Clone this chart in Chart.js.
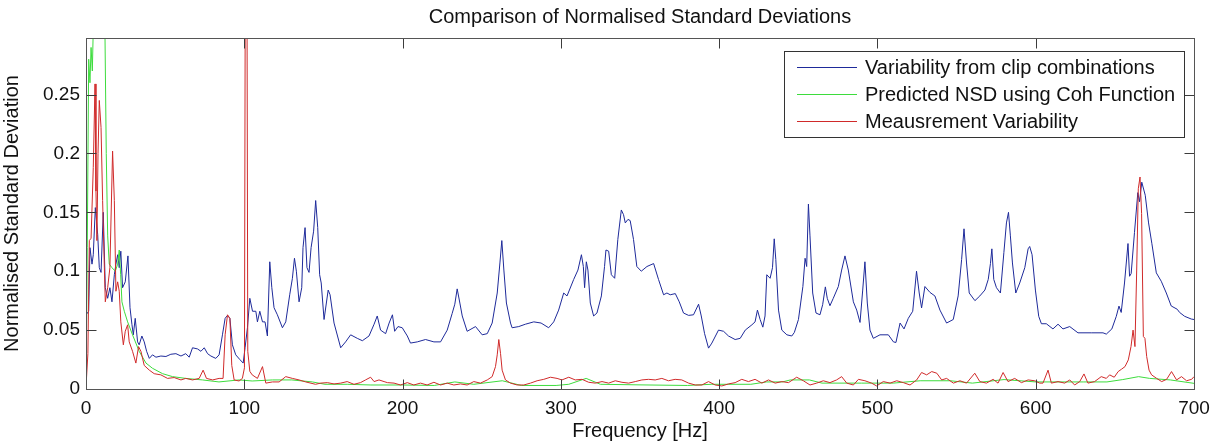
<!DOCTYPE html>
<html>
<head>
<meta charset="utf-8">
<script src="https://cdn.jsdelivr.net/npm/chart.js@4.4.1/dist/chart.umd.min.js"></script>
<style>
    html, body { margin: 0; padding: 0; background: #fff; }
</style>
</head>
<body>
<canvas id="NsdChart" width="1218" height="443"></canvas>
<script>
// values (frequency in Hz, value)
const blueFreq = [0, 1.7, 2.5, 3.8, 4.6, 5.9, 7.4, 8.4, 9.5, 10.9, 12.2, 13.7, 15.1, 16.4, 17.9, 18.9, 20, 21, 22, 23.1, 24.8, 26.5, 27.8, 29, 29.9, 31.1, 32.6, 33.6, 35.3, 36.8, 38.3, 40, 42, 44.2, 47.3, 50.5, 53.6, 56.8, 60, 63, 65.2, 67.3, 70.5, 72.6, 74.7, 76.8, 78.9, 82, 84.1, 86.2, 87.9, 89.4, 90.9, 92.5, 94.6, 97.2, 99.3, 100.5, 102, 103.5, 105.2, 107.3, 108.3, 109.8, 111.5, 113.1, 114.6, 116.1, 117.4, 118.8, 120.9, 124.1, 126.2, 128.7, 130.4, 131.7, 132.9, 134.6, 136.3, 137.1, 138.4, 139.6, 140.9, 142.2, 143.8, 145.1, 146.4, 147.6, 148.6, 150.4, 153, 154.2, 156.7, 160.9, 164, 167.2, 171.4, 174.6, 178.8, 182, 184, 186.1, 189.3, 191.5, 193.6, 195, 197.1, 199.8, 203, 205, 209.3, 214.5, 219.8, 224, 228.2, 231.3, 233, 234.5, 236.2, 237.7, 240.8, 246.1, 250.3, 253.5, 256.6, 259.8, 261.5, 262.7, 264, 265.6, 268.2, 269.2, 273.4, 277.6, 282.9, 287.5, 292.3, 295.5, 298.6, 301.8, 303.9, 308.1, 310.8, 313, 314.2, 315, 316.1, 317.1, 318.6, 320.7, 322.8, 325.6, 327.6, 328.5, 330.2, 331.9, 334, 336, 338.2, 339.6, 340.7, 342.4, 343.8, 345.9, 348, 350.8, 354.4, 358.6, 361.7, 364.9, 367, 369.1, 372.3, 374.8, 377.5, 380.7, 383.8, 387, 388.7, 390.8, 393.3, 395.4, 399.6, 402.8, 405.9, 410.1, 413.3, 416.5, 420.7, 422.7, 424.2, 425.9, 427.6, 429, 430.1, 432.2, 433.7, 434.8, 435.8, 437.5, 439.6, 442.8, 445.9, 447.5, 450.1, 452.9, 454.3, 455.3, 456.4, 457.4, 459.1, 461.2, 463.7, 465.4, 467.1, 468.3, 470, 472.1, 475.3, 477.4, 479.5, 481.6, 484.8, 486.9, 489, 490.7, 492.1, 493.6, 495.3, 497.4, 501.6, 506.9, 510.1, 511.7, 514.3, 516.8, 519.5, 522.3, 524.7, 526.4, 527.9, 530, 533.2, 536.3, 539.5, 543.7, 547.9, 551, 553.2, 554.7, 556.3, 558, 561.6, 564.7, 567.9, 570, 571.4, 572.3, 573.5, 575.2, 577.7, 579.9, 581.5, 582.8, 584, 585.3, 587.4, 589.9, 593.1, 595.2, 596.2, 597.7, 599.8, 601.9, 603.6, 606.7, 610.9, 614.1, 617.2, 621.5, 626.7, 635.1, 642.5, 644.6, 648.1, 650.9, 652.6, 654, 656.1, 658.3, 659.3, 660.3, 662.4, 664.5, 665.6, 667, 669.2, 671.3, 673.4, 676.2, 679.3, 682.5, 685.6, 689.4, 690.9, 694.1, 698.3, 700];
const blueVals = [0.063, 0.066, 0.12, 0.106, 0.114, 0.154, 0.131, 0.103, 0.099, 0.15, 0.086, 0.077, 0.086, 0.074, 0.097, 0.106, 0.114, 0.103, 0.117, 0.086, 0.091, 0.113, 0.069, 0.055, 0.046, 0.06, 0.04, 0.0375, 0.045, 0.04, 0.032, 0.026, 0.029, 0.027, 0.028, 0.0276, 0.0295, 0.03, 0.028, 0.03, 0.027, 0.035, 0.034, 0.032, 0.035, 0.03, 0.028, 0.026, 0.029, 0.046, 0.06, 0.0625, 0.06, 0.0375, 0.029, 0.025, 0.022, 0.035, 0.052, 0.077, 0.066, 0.066, 0.057, 0.066, 0.057, 0.057, 0.045, 0.108, 0.086, 0.069, 0.063, 0.052, 0.057, 0.08, 0.094, 0.111, 0.1, 0.074, 0.086, 0.12, 0.137, 0.103, 0.099, 0.12, 0.134, 0.16, 0.137, 0.097, 0.09, 0.059, 0.084, 0.08, 0.056, 0.035, 0.04, 0.046, 0.043, 0.041, 0.045, 0.055, 0.062, 0.05, 0.047, 0.056, 0.063, 0.049, 0.053, 0.052, 0.045, 0.039, 0.04, 0.042, 0.04, 0.04, 0.05, 0.064, 0.072, 0.085, 0.073, 0.062, 0.049, 0.053, 0.046, 0.047, 0.056, 0.0815, 0.107, 0.126, 0.101, 0.073, 0.056, 0.052, 0.053, 0.055, 0.057, 0.056, 0.052, 0.057, 0.067, 0.0815, 0.079, 0.093, 0.101, 0.114, 0.104, 0.086, 0.108, 0.101, 0.073, 0.062, 0.0645, 0.079, 0.104, 0.118, 0.117, 0.097, 0.094, 0.127, 0.152, 0.148, 0.141, 0.144, 0.143, 0.127, 0.104, 0.1, 0.104, 0.1065, 0.093, 0.08, 0.0815, 0.08, 0.081, 0.074, 0.0645, 0.0625, 0.063, 0.072, 0.062, 0.047, 0.0347, 0.039, 0.05, 0.049, 0.045, 0.042, 0.043, 0.05, 0.0545, 0.057, 0.067, 0.059, 0.0525, 0.062, 0.097, 0.094, 0.103, 0.1275, 0.11, 0.067, 0.05, 0.046, 0.045, 0.048, 0.059, 0.087, 0.111, 0.104, 0.157, 0.13, 0.0815, 0.0645, 0.063, 0.0716, 0.0867, 0.077, 0.0707, 0.077, 0.087, 0.101, 0.113, 0.101, 0.074, 0.067, 0.0565, 0.084, 0.108, 0.073, 0.05, 0.043, 0.046, 0.046, 0.04, 0.0395, 0.056, 0.051, 0.06, 0.066, 0.1, 0.0815, 0.0688, 0.087, 0.082, 0.079, 0.067, 0.056, 0.059, 0.079, 0.11, 0.136, 0.107, 0.0815, 0.075, 0.079, 0.084, 0.093, 0.1065, 0.119, 0.093, 0.086, 0.0815, 0.116, 0.141, 0.15, 0.13, 0.107, 0.0815, 0.09, 0.103, 0.119, 0.121, 0.114, 0.084, 0.0617, 0.0554, 0.0554, 0.051, 0.055, 0.051, 0.053, 0.0477, 0.0477, 0.0477, 0.0466, 0.051, 0.0617, 0.0704, 0.065, 0.09, 0.1235, 0.0957, 0.098, 0.133, 0.1667, 0.159, 0.1756, 0.1645, 0.141, 0.1233, 0.0986, 0.0915, 0.0815, 0.0705, 0.0677, 0.065, 0.0617, 0.0594, 0.059];

const greenFreq = [0, 0.8, 1.7, 2.5, 3.2, 4, 5, 7, 9, 11, 12, 12.8, 13.7, 14.7, 16.4, 18.5, 20, 21, 21.9, 22.7, 24.2, 26.3, 29.4, 33.6, 37.9, 42, 48.4, 54.7, 63, 73.6, 84, 96.7, 105, 117.8, 130, 143, 151, 165, 180, 200, 220, 233, 245, 263, 275, 297, 305, 316, 325, 350, 380, 395, 420, 430, 440, 445, 457, 465, 490, 510, 527, 546, 560, 580, 600, 630, 645, 655, 665, 672, 685, 700];
const greenVals = [0.003, 0.12, 0.28, 0.26, 0.29, 0.27, 0.33, 0.38, 0.4, 0.36, 0.3, 0.2, 0.13, 0.106, 0.103, 0.1, 0.106, 0.118, 0.097, 0.074, 0.066, 0.057, 0.046, 0.032, 0.022, 0.0176, 0.013, 0.0105, 0.009, 0.0077, 0.006, 0.0077, 0.0068, 0.0077, 0.0077, 0.006, 0.004, 0.004, 0.0034, 0.0034, 0.003, 0.006, 0.004, 0.007, 0.003, 0.003, 0.004, 0.009, 0.004, 0.0035, 0.003, 0.004, 0.004, 0.006, 0.006, 0.0077, 0.0077, 0.005, 0.005, 0.005, 0.007, 0.007, 0.005, 0.008, 0.006, 0.006, 0.006, 0.008, 0.0105, 0.009, 0.0077, 0.0048];

const redFreq = [0, 1.2, 2.1, 3.2, 4.6, 5.7, 6.3, 6.9, 7.6, 8.4, 9.5, 10.5, 11.6, 12.2, 13.7, 15.1, 16.8, 17.9, 18.9, 20, 21, 22, 23.6, 24.8, 26.3, 27.3, 29.4, 31.5, 33.2, 34.7, 36.8, 40, 43.1, 47.3, 51.5, 55.7, 60, 63, 67.3, 71.5, 74, 76.1, 80, 84.1, 86.6, 87.9, 89.4, 90.9, 92.1, 93.6, 96.7, 98.8, 100.1, 100.7, 101.6, 102.2, 103.5, 105, 108.3, 111.5, 113.6, 117.8, 122, 126.2, 130.4, 134.6, 138.8, 145, 148.3, 152.5, 156.7, 160.9, 165, 169.3, 173.4, 176.6, 179.8, 182, 185.1, 188.3, 190.4, 194.6, 198.7, 203, 207.1, 211.3, 215.5, 219.8, 224, 228.2, 232.4, 236.6, 240.8, 245, 249.2, 253.5, 256.6, 258.7, 259.8, 260.8, 261.9, 262.9, 265, 268.2, 272.4, 276.6, 280.8, 285, 289.2, 293.4, 297.6, 300.7, 305, 309.1, 313.4, 317.6, 321.8, 326, 330.2, 334.4, 338.6, 342.8, 347, 351.2, 355.4, 359.6, 363.8, 368, 372.2, 376.4, 380.7, 384.9, 389.1, 393.3, 397.5, 401.7, 405.9, 410.1, 414.3, 418.5, 422.7, 427, 431.2, 435.4, 439.6, 443.8, 449, 453.2, 457.4, 461.6, 465.8, 470, 474.2, 477.4, 480.6, 484.8, 488, 492.1, 496.3, 499.5, 503.7, 508, 512.2, 516.4, 520.6, 524.8, 527.9, 531.1, 534.3, 537.5, 540.6, 543.7, 548, 552.1, 556.3, 561.5, 564.7, 568.9, 573.1, 576.2, 579.4, 582.5, 586.7, 591, 595.2, 599.4, 602.5, 604.6, 607.8, 609.9, 614.1, 618.3, 621.5, 624.6, 627.8, 630.5, 633, 637.2, 641.4, 644.6, 646.7, 649.6, 652.1, 654.2, 656.4, 658.5, 660.2, 661.5, 662.7, 663.8, 664.8, 665.9, 666.9, 668, 669, 670.1, 671.6, 673.2, 676.4, 679.6, 682.7, 685.8, 689, 692.1, 695.3, 698.5, 700];
const redVals = [0.002, 0.03, 0.126, 0.128, 0.188, 0.259, 0.168, 0.126, 0.2, 0.245, 0.222, 0.16, 0.103, 0.074, 0.086, 0.103, 0.202, 0.16, 0.083, 0.091, 0.083, 0.057, 0.0375, 0.049, 0.0545, 0.04, 0.032, 0.022, 0.036, 0.032, 0.02, 0.016, 0.013, 0.012, 0.009, 0.0097, 0.0077, 0.009, 0.0077, 0.009, 0.016, 0.009, 0.0077, 0.009, 0.009, 0.046, 0.063, 0.06, 0.02, 0.0077, 0.0068, 0.009, 0.018, 0.4, 0.4, 0.032, 0.015, 0.012, 0.009, 0.019, 0.005, 0.006, 0.006, 0.0105, 0.009, 0.0077, 0.006, 0.004, 0.005, 0.0054, 0.0043, 0.005, 0.0063, 0.004, 0.0054, 0.0077, 0.01, 0.0063, 0.0077, 0.0063, 0.0054, 0.005, 0.0034, 0.0054, 0.0034, 0.005, 0.0034, 0.0057, 0.0034, 0.005, 0.0034, 0.0043, 0.0034, 0.0063, 0.005, 0.0077, 0.0105, 0.019, 0.029, 0.042, 0.03, 0.016, 0.0077, 0.005, 0.0034, 0.0034, 0.005, 0.007, 0.0082, 0.01, 0.009, 0.0077, 0.01, 0.0077, 0.0082, 0.0057, 0.005, 0.0063, 0.005, 0.007, 0.0057, 0.005, 0.0063, 0.0077, 0.0082, 0.0077, 0.009, 0.007, 0.0082, 0.0077, 0.005, 0.0034, 0.0034, 0.0063, 0.0034, 0.0026, 0.0043, 0.0054, 0.0082, 0.0063, 0.0082, 0.005, 0.0077, 0.005, 0.0063, 0.0054, 0.01, 0.007, 0.0034, 0.005, 0.007, 0.0054, 0.0077, 0.0105, 0.005, 0.0034, 0.0082, 0.007, 0.005, 0.0026, 0.0063, 0.005, 0.007, 0.0054, 0.0034, 0.0077, 0.014, 0.012, 0.0148, 0.0134, 0.0077, 0.009, 0.005, 0.007, 0.005, 0.0134, 0.0063, 0.005, 0.0082, 0.005, 0.014, 0.0063, 0.009, 0.0054, 0.0077, 0.007, 0.005, 0.005, 0.016, 0.005, 0.0063, 0.005, 0.0077, 0.0034, 0.0063, 0.0128, 0.005, 0.0063, 0.0105, 0.009, 0.012, 0.01, 0.0148, 0.0168, 0.019, 0.0247, 0.036, 0.05, 0.036, 0.101, 0.17, 0.18, 0.149, 0.0446, 0.043, 0.0276, 0.016, 0.012, 0.009, 0.0063, 0.0082, 0.0148, 0.0077, 0.0105, 0.007, 0.0082, 0.0105];

const xTicks = [0, 100, 200, 300, 400, 500, 600, 700];
const xTickLabels = ['0', '100', '200', '300', '400', '500', '600', '700'];
const yTicks = [0, 0.05, 0.1, 0.15, 0.2, 0.25];
const yTickLabels = ['0', '0.05', '0.1', '0.15', '0.2', '0.25'];

const seriesLabels = ['Variability from clip combinations', 'Predicted NSD using Coh Function', 'Meausrement Variability'];

function toPoints(freq, vals) {
    return freq.map((f, i) => ({ x: f, y: vals[i] }));
}

const FONT = 'Liberation Sans, Arial, sans-serif';

// MATLAB style box: frame, inward ticks, title and legend box
const matlabBox = {
    id: 'matlabBox',
    afterDatasetsDraw(chart) {
        const ctx = chart.ctx;
        const a = chart.chartArea;
        const xs = chart.scales.x;
        const ys = chart.scales.y;
        const L = Math.round(a.left) + 0.5, R = Math.round(a.right) + 0.5;
        const T = Math.round(a.top) + 0.5, B = Math.round(a.bottom) + 0.5;
        ctx.save();
        ctx.lineWidth = 1;
        ctx.strokeStyle = '#3c3c3c';
        ctx.beginPath();
        xTicks.forEach(v => {
            const px = Math.round(xs.getPixelForValue(v)) + 0.5;
            ctx.moveTo(px, B); ctx.lineTo(px, B - 10);
            ctx.moveTo(px, T); ctx.lineTo(px, T + 10);
        });
        yTicks.forEach(v => {
            const py = Math.round(ys.getPixelForValue(v)) + 0.5;
            ctx.moveTo(L, py); ctx.lineTo(L + 10, py);
            ctx.moveTo(R, py); ctx.lineTo(R - 10, py);
        });
        ctx.stroke();
        ctx.strokeStyle = '#555';
        ctx.strokeRect(L, T, R - L, B - T);

        // title
        ctx.fillStyle = '#111';
        ctx.font = '20px ' + FONT;
        ctx.textAlign = 'center';
        ctx.textBaseline = 'middle';
        ctx.fillText('Comparison of Normalised Standard Deviations', (a.left + a.right) / 2, 17);

        // legend
        ctx.fillStyle = '#fff';
        ctx.fillRect(784, 51, 400, 86);
        ctx.strokeStyle = '#333';
        ctx.strokeRect(784.5, 51.5, 400, 86);
        ctx.textAlign = 'left';
        chart.data.datasets.forEach((ds, i) => {
            const y = 67 + i * 27;
            ctx.strokeStyle = ds.borderColor;
            ctx.beginPath();
            ctx.moveTo(797, y + 0.5); ctx.lineTo(857, y + 0.5);
            ctx.stroke();
            ctx.fillStyle = '#111';
            ctx.fillText(ds.label, 865, y + 1);
        });
        ctx.restore();
    }
};

const nsd = document.getElementById('NsdChart').getContext('2d');
const nsdChart = new Chart(nsd, {
    type: 'line',
    data: {
        datasets: [{
            label: seriesLabels[0],
            data: toPoints(blueFreq, blueVals),
            borderColor: '#1e2a9a',
            order: 3
        },
        {
            label: seriesLabels[1],
            data: toPoints(greenFreq, greenVals),
            borderColor: '#3ddc3d',
            order: 2
        },
        {
            label: seriesLabels[2],
            data: toPoints(redFreq, redVals),
            borderColor: '#d02a2a',
            order: 1
        }]
    },
    options: {
        responsive: false,
        animation: false,
        layout: {
            padding: { top: 38, right: 24, left: 0, bottom: 0 }
        },
        elements: {
            line: { borderWidth: 1, tension: 0 },
            point: { radius: 0 }
        },
        plugins: {
            legend: { display: false },
            tooltip: { enabled: false }
        },
        scales: {
            x: {
                type: 'linear',
                min: 0,
                max: 700,
                afterBuildTicks: s => { s.ticks = xTicks.map(v => ({ value: v })); },
                afterFit: s => { s.height = 54; },
                grid: { display: false, drawTicks: false },
                border: { display: false },
                ticks: {
                    padding: 8,
                    color: '#111',
                    font: { family: FONT, size: 19 },
                    maxRotation: 0,
                    callback: (v, i) => xTickLabels[i]
                },
                title: {
                    display: true,
                    text: 'Frequency [Hz]',
                    color: '#111',
                    font: { family: FONT, size: 20 },
                    padding: { top: 0, bottom: 0 }
                }
            },
            y: {
                min: 0,
                max: 0.298,
                afterBuildTicks: s => { s.ticks = yTicks.map(v => ({ value: v })); },
                afterFit: s => { s.width = 86; },
                grid: { display: false, drawTicks: false },
                border: { display: false },
                ticks: {
                    padding: 6,
                    color: '#111',
                    font: { family: FONT, size: 19 },
                    callback: (v, i) => yTickLabels[i]
                },
                title: {
                    display: true,
                    text: 'Normalised Standard Deviation',
                    color: '#111',
                    font: { family: FONT, size: 20 },
                    padding: { top: 0, bottom: 10 }
                }
            }
        }
    },
    plugins: [matlabBox]
});
</script>
</body>
</html>
